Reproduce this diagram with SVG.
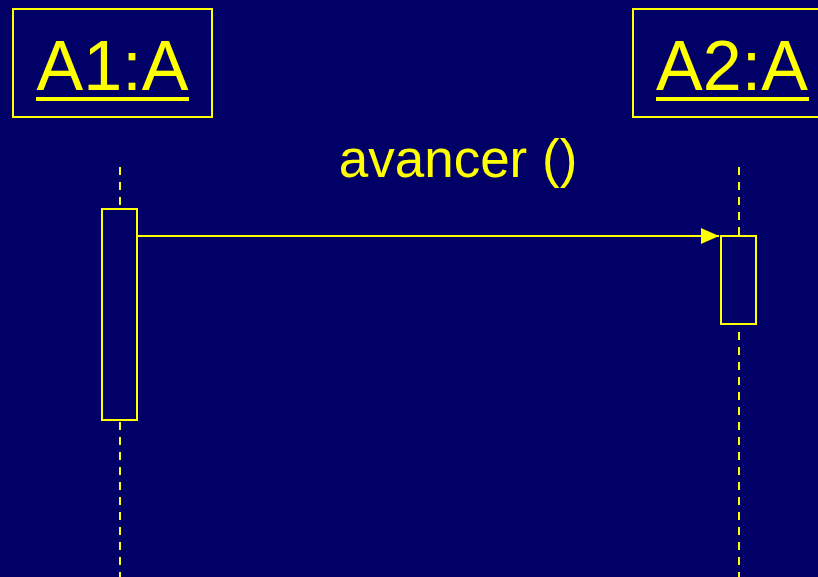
<svg xmlns="http://www.w3.org/2000/svg" width="818" height="577" viewBox="0 0 818 577">
<style>
.box{fill:none;stroke:#ffff00;stroke-width:2}
.act{fill:#000066;stroke:#ffff00;stroke-width:2}
.life{stroke:#ffff00;stroke-width:2;stroke-dasharray:8 7}
.title{font-family:"Liberation Sans",Arial,sans-serif;font-size:70px;fill:#ffff00}
.lbl{font-family:"Liberation Sans",Arial,sans-serif;font-size:53px;fill:#ffff00}
</style>
<defs>
<marker id="ah" markerWidth="18" markerHeight="16" refX="18" refY="8" orient="auto" markerUnits="userSpaceOnUse">
<path d="M0,0 L18,8 L0,16 Z" fill="#ffff00"/>
</marker>
</defs>
<rect width="818" height="577" fill="#000066"/>
<g id="lifelines">
<line class="life" x1="120" y1="167" x2="120" y2="577"/>
<line class="life" x1="739" y1="167" x2="739" y2="577"/>
</g>
<g id="A1">
<rect class="box" x="13" y="9" width="199" height="108"/>
<text class="title" x="112.5" y="90" text-anchor="middle">A1:A</text>
<rect x="36" y="97" width="153" height="4" fill="#ffff00"/>
</g>
<g id="A2">
<rect class="box" x="633" y="9" width="200" height="108"/>
<text class="title" x="732" y="90" text-anchor="middle">A2:A</text>
<rect x="656" y="97" width="153" height="4" fill="#ffff00"/>
</g>
<g id="act1"><rect class="act" x="102" y="209" width="35" height="211"/></g>
<g id="act2"><rect class="act" x="721" y="236" width="35" height="88"/></g>
<g id="connectors">
<line x1="137" y1="236" x2="719" y2="236" stroke="#ffff00" stroke-width="2" marker-end="url(#ah)"/>
<text class="lbl" x="458" y="177" text-anchor="middle">avancer ()</text>
</g>
</svg>
